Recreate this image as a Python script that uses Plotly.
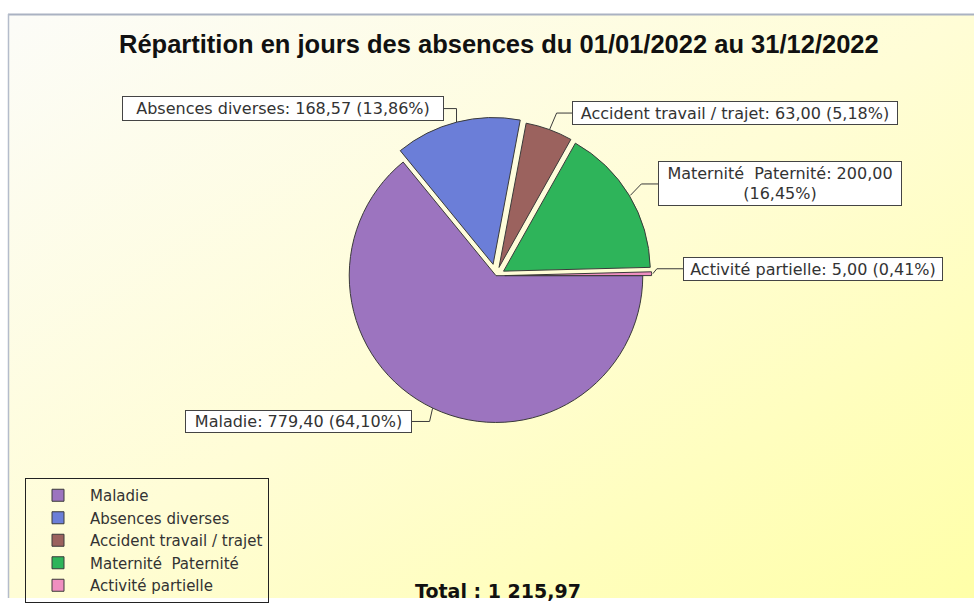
import math
import base64
import plotly.graph_objects as go

# ---------------- data ----------------
categories = ["Maladie", "Absences diverses", "Accident travail / trajet",
              "Maternité\u00a0 Paternité", "Activité partielle"]
values = [779.40, 168.57, 63.00, 200.00, 5.00]
colors = ["#9c74bf", "#6b7ed8", "#9b625e", "#2eb45a", "#f08fc0"]
pulls = [0.0, 0.08, 0.06, 0.06, 0.06]
title_text = "Répartition en jours des absences du 01/01/2022 au 31/12/2022"

# ---------------- layout constants (pixels) ----------------
W, H = 974, 603
CX, CY, R = 496, 278, 148          # pie centre / radius in pixels
ROT = 90                            # start angle (clockwise from 12 o'clock)

# label boxes: centre x, centre y, width, height, elbow dx
label_boxes = [
    (298.5, 425, 227, 23, -3),
    (283, 109.5, 322, 25, 0),
    (735, 114, 326, 24, 7),
    (780, 185.5, 244, 45, 11),
    (813, 271, 260, 24, 4),
]


def px(x):
    return x / W


def py(y):
    return 1 - y / H


def fmt(v):
    s = f"{v:,.2f}"
    return s.replace(",", " ").replace(".", ",")


total = sum(values)
maxpull = max(pulls)
half = R * (1 + maxpull)

fig = go.Figure()

fig.add_trace(go.Pie(
    labels=categories,
    values=values,
    sort=False,
    direction="clockwise",
    rotation=ROT,
    pull=pulls,
    marker=dict(colors=colors, line=dict(color="#3a3a3a", width=1)),
    textinfo="none",
    textposition="none",
    hoverinfo="label+value+percent",
    domain=dict(x=[px(CX - half), px(CX + half)],
                y=[py(CY + half), py(CY - half)]),
))

shapes = []
annotations = []

# leader lines + label boxes
cum = 0.0
for i, (lab, v) in enumerate(zip(categories, values)):
    mid = ROT + (cum + v / 2) / total * 360
    cum += v
    a = math.radians(mid)
    dx, dy = math.sin(a), -math.cos(a)
    pc = (CX + pulls[i] * R * dx, CY + pulls[i] * R * dy)
    ex, ey = pc[0] + R * dx, pc[1] + R * dy
    bx, by, bw, bh, edx = label_boxes[i]
    elx, ely = ex + edx, by
    if bx > ex:
        bedge = bx - bw / 2
    else:
        bedge = bx + bw / 2
    path = f"M{px(ex)},{py(ey)} L{px(elx)},{py(ely)} L{px(bedge)},{py(ely)}"
    shapes.append(dict(type="path", xref="paper", yref="paper", path=path,
                       line=dict(color="#3a3a3a", width=1)))
    pct = fmt(v / total * 100)
    if i == 3:
        txt = f"{lab}: {fmt(v)}<br>({pct}%)"
    else:
        txt = f"{lab}: {fmt(v)} ({pct}%)"
    annotations.append(dict(
        x=px(bx), y=py(by), xref="paper", yref="paper",
        text=txt, showarrow=False, xanchor="center", yanchor="middle",
        align="center",
        width=bw - 6, height=bh - 6, borderpad=2,
        bordercolor="#444444", borderwidth=1, bgcolor="#ffffff",
        font=dict(family="DejaVu Sans", size=16, color="#333333"),
    ))

# title
annotations.append(dict(
    x=px(498.5), y=py(44), xref="paper", yref="paper", showarrow=False,
    xanchor="center", yanchor="middle", text=f"<b>{title_text}</b>",
    font=dict(family="Liberation Sans", size=25.5, color="#111111"),
))
# total
annotations.append(dict(
    x=px(497.5), y=py(596), xref="paper", yref="paper", showarrow=False,
    xanchor="center", yanchor="middle", text=f"<b>Total : {fmt(total)}</b>",
    font=dict(family="DejaVu Sans", size=19, color="#111111"),
))

# border lines of the chart area
shapes.append(dict(type="line", xref="paper", yref="paper", layer="below",
                   x0=px(8), x1=1, y0=py(14.5), y1=py(14.5),
                   line=dict(color="#aab2c2", width=2)))
shapes.append(dict(type="line", xref="paper", yref="paper", layer="below",
                   x0=px(8.5), x1=px(8.5), y0=py(14), y1=0,
                   line=dict(color="#b4bccb", width=1.5)))

# gradient background as an SVG image
bgw, bgh = W - 9, H - 15
svg = (f'<svg xmlns="http://www.w3.org/2000/svg" width="{bgw}" height="{bgh}" '
       f'viewBox="0 0 {bgw} {bgh}" preserveAspectRatio="none">'
       '<defs><linearGradient id="g" x1="0" y1="0" x2="1" y2="1">'
       '<stop offset="0" stop-color="#fcfcf8"/>'
       '<stop offset="0.5" stop-color="#fffdd6"/>'
       '<stop offset="1" stop-color="#ffffa8"/>'
       '</linearGradient></defs>'
       f'<rect width="{bgw}" height="{bgh}" fill="url(#g)"/></svg>')
src = "data:image/svg+xml;base64," + base64.b64encode(svg.encode()).decode()

fig.update_layout(
    width=W, height=H,
    margin=dict(l=0, r=0, t=0, b=0),
    paper_bgcolor="#ffffff",
    plot_bgcolor="rgba(0,0,0,0)",
    showlegend=True,
    legend=dict(
        x=px(25), y=py(482), xanchor="left", yanchor="top",
        bgcolor="rgba(0,0,0,0)", bordercolor="#222222", borderwidth=1,
        font=dict(family="DejaVu Sans", size=15, color="#333333"),
        itemwidth=54, traceorder="normal",
    ),
    images=[dict(source=src, xref="paper", yref="paper",
                 x=px(9), y=py(15), sizex=bgw / W, sizey=bgh / H,
                 xanchor="left", yanchor="top", sizing="stretch",
                 layer="below")],
    shapes=shapes,
    annotations=annotations,
)

fig.write_html(
    "out.html",
    config={"displayModeBar": False},
    post_script="document.body.style.margin='0';"
                "document.body.style.overflow='hidden';",
)
